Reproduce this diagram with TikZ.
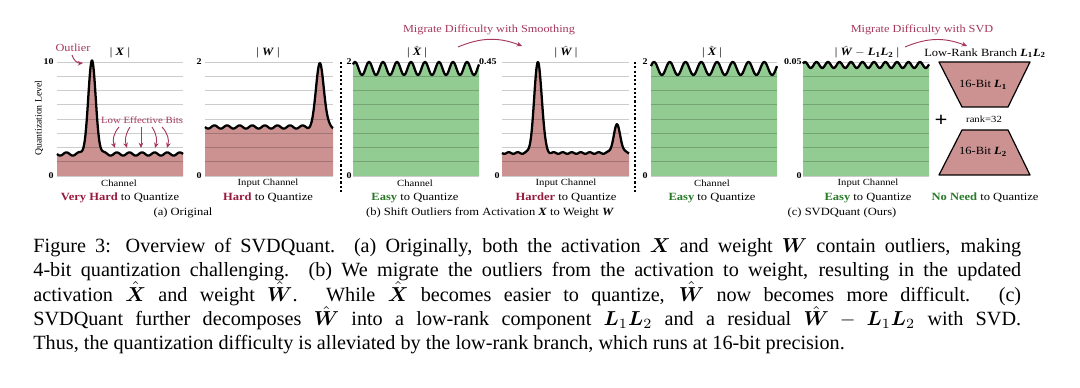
\documentclass[tikz,border=0pt]{standalone}
\usepackage{amsmath}
\usepackage{fontspec}
\setmainfont{Liberation Serif}
\usetikzlibrary{arrows.meta}
\definecolor{rosefill}{RGB}{204,146,146}
\definecolor{greenfill}{RGB}{146,204,146}
\definecolor{redtxt}{RGB}{150,25,60}
\definecolor{annot}{RGB}{165,55,90}
\definecolor{greentxt}{RGB}{40,120,40}
\newcommand\bi[1]{\textbf{\textit{#1}}}
\newcommand\hbi[1]{$\hat{\text{\bfseries\itshape #1}}$}
\newcommand\drawpanel[4]{%
  \fill[#4] (#1,176) -- plot[domain=#1:#2,samples=300] (\x,{#3(\x)}) -- (#2,176) -- cycle;
  \foreach \k in {0,...,8} \draw[grid] (#1,{62+14.25*\k}) -- (#2,{62+14.25*\k});
  \draw[curve] plot[domain=#1:#2,samples=300] (\x,{#3(\x)});
}
\begin{document}
\begin{tikzpicture}[x=0.75pt,y=-0.75pt,
  lab/.style={yscale=0.88, inner sep=0pt, font=\fontsize{9.4}{11}\selectfont},
  ttl/.style={lab, font=\fontsize{9.5}{11}\selectfont},
  axl/.style={lab, font=\fontsize{8}{9}\selectfont},
  tick/.style={lab, font=\fontsize{7.5}{8}\selectfont\bfseries},
  ann/.style={lab, text=annot, font=\fontsize{9.2}{11}\selectfont},
  curve/.style={line width=1.7pt, line join=round},
  grid/.style={black, opacity=0.2, line width=0.6pt},
  arr/.style={annot, line width=0.7pt, -{Stealth[length=4pt,width=3.5pt]}},
  sep/.style={line width=1.6pt, dash pattern=on 1.6pt off 1.6pt},
  trap/.style={fill=rosefill, draw=black, line width=0.9pt, line join=round},
  declare function={
    fa(\x)=154+1.6*sin(28.571*(\x-57))-92*exp(-min(((\x-92)/3.8)^2/2,30));
    fb(\x)=127+1.6*sin(28.571*(\x-205))-65*exp(-min(((\x-320)/3.8)^2/2,30));
    fc(\x)=68.5-6.5*cos(25.714*(\x-355));
    fd(\x)=153+0.8*sin(40*(\x-502))-91*exp(-min(((\x-538)/3.8)^2/2,30))-28*exp(-min(((\x-617)/3.4)^2/2,30));
    fe(\x)=68.5-6.5*cos(22.857*(\x-654));
    ff(\x)=65-3*cos(31.304*(\x-805));
  }]
\useasboundingbox (0,0) rectangle (1080,388);

% panels
\drawpanel{57}{183}{fa}{rosefill}
\drawpanel{205}{333}{fb}{rosefill}
\drawpanel{353}{479}{fc}{greenfill}
\drawpanel{502}{629}{fd}{rosefill}
\drawpanel{651}{777}{fe}{greenfill}
\drawpanel{803}{929}{ff}{greenfill}

% separators
\coordinate (s1t) at (340.7,62); \coordinate (s1b) at (340.7,193);
\coordinate (s2t) at (635,62); \coordinate (s2b) at (635,193);
\draw[sep] (s1t) -- (s1b);
\draw[sep] (s2t) -- (s2b);

% ticks
\node[tick,anchor=east] (t1a) at (54,62) {10};
\node[tick,anchor=east] (t1b) at (54,176) {0};
\node[tick,anchor=east] (t2a) at (202,62) {2};
\node[tick,anchor=east] (t2b) at (202,176) {0};
\node[tick,anchor=east] (t3a) at (352,62) {2};
\node[tick,anchor=east] (t3b) at (352,176) {0};
\node[tick,anchor=east] (t4a) at (497,62) {0.45};
\node[tick,anchor=east] (t4b) at (500,176) {0};
\node[tick,anchor=east] (t5a) at (648,62) {2};
\node[tick,anchor=east] (t5b) at (648,176) {0};
\node[tick,anchor=east] (t6a) at (802,62) {0.05};
\node[tick,anchor=east] (t6b) at (802,176) {0};

\node[font=\fontsize{7.3}{8}\selectfont, rotate=90, inner sep=0pt] (ql) at (39,118) {Quantization Level};

% titles
\node[ttl] (h1) at (120,53) {| \bi{X} |};
\node[ttl] (h2) at (268,53) {| \bi{W} |};
\node[ttl] (h3) at (417,52) {| \hbi{X} |};
\node[ttl] (h4) at (566,52) {| \hbi{W} |};
\node[ttl] (h5) at (712,52) {| \hbi{X} |};
\node[ttl] (h6) at (867,52) {| \hbi{W} $-$ \bi{L}\textsubscript{\bfseries 1}\bi{L}\textsubscript{\bfseries 2} |};
\node[lab] (h7) at (985,53) {Low-Rank Branch \bi{L}\textsubscript{\bfseries 1}\bi{L}\textsubscript{\bfseries 2}};

% axis labels
\node[axl] (x1) at (119,183) {Channel};
\node[axl] (x2) at (268,183) {Input Channel};
\node[axl] (x3) at (415,183) {Channel};
\node[axl] (x4) at (566,183) {Input Channel};
\node[axl] (x5) at (712,183) {Channel};
\node[axl] (x6) at (868,183) {Input Channel};

% difficulty labels
\node[lab] (d1) at (120,198) {\textcolor{redtxt}{\textbf{Very Hard}} to Quantize};
\node[lab] (d2) at (268,198) {\textcolor{redtxt}{\textbf{Hard}} to Quantize};
\node[lab] (d3) at (415,198) {\textcolor{greentxt}{\textbf{Easy}} to Quantize};
\node[lab] (d4) at (566,198) {\textcolor{redtxt}{\textbf{Harder}} to Quantize};
\node[lab] (d5) at (712,198) {\textcolor{greentxt}{\textbf{Easy}} to Quantize};
\node[lab] (d6) at (868,198) {\textcolor{greentxt}{\textbf{Easy}} to Quantize};
\node[lab] (d7) at (985,198) {\textcolor{greentxt}{\textbf{No Need}} to Quantize};

% sub-captions
\node[lab] (ca) at (183,213) {(a) Original};
\node[lab] (cb) at (490,213) {(b) Shift Outliers from Activation \bi{X} to Weight \bi{W}};
\node[lab] (cc) at (842,213) {(c) SVDQuant (Ours)};

% annotations
\node[ann] (outl) at (73,48) {Outlier};
\coordinate (pk1) at (83,63);
\draw[arr] (72,55) to[bend right=40] (pk1);
\node[ann, font=\fontsize{8.1}{9}\selectfont] (leb) at (142,120) {Low Effective Bits};
\coordinate (la1) at (119,127); \coordinate (lb1) at (115,148);
\coordinate (la2) at (130,127); \coordinate (lb2) at (127,148);
\coordinate (la3) at (141,127); \coordinate (lb3) at (141,148);
\coordinate (la4) at (152,127); \coordinate (lb4) at (155,148);
\coordinate (la5) at (162,127); \coordinate (lb5) at (167,148);
\draw[arr] (la1) to[bend right=30] (lb1);
\draw[arr] (la2) to[bend right=25] (lb2);
\draw[arr] (la3) -- (lb3);
\draw[arr] (la4) to[bend left=25] (lb4);
\draw[arr] (la5) to[bend left=30] (lb5);

\node[ann] (mig1) at (489,30) {Migrate Difficulty with Smoothing};
\coordinate (m1a) at (458,47); \coordinate (m1b) at (522,46);
\draw[arr] (m1a) to[bend left=22] (m1b);
\node[ann] (mig2) at (922,30) {Migrate Difficulty with SVD};
\coordinate (m2a) at (905,47); \coordinate (m2b) at (967,46);
\draw[arr] (m2a) to[bend left=22] (m2b);

% low-rank branch
\draw[trap] (939,62) -- (1030,62) -- (1008,107) -- (962,107) -- cycle;
\draw[trap] (962,130) -- (1008,130) -- (1030,175) -- (939,175) -- cycle;
\node[lab] (l1) at (983,85) {16-Bit \bi{L}\textsubscript{\bfseries 1}};
\node[lab] (l2) at (983,152) {16-Bit \bi{L}\textsubscript{\bfseries 2}};
\node[axl] (rk) at (984,119) {rank=32};
\node[lab, font=\fontsize{17}{17}\selectfont\bfseries] (plus) at (941,121) {+};

% caption
\node[anchor=north west, inner sep=0pt, scale=1.515, text width=489pt, align=justify, font=\fontsize{10}{12}\selectfont] (cap) at (33,238) {Figure 3: Overview of SVDQuant. (a) Originally, both the activation $\boldsymbol{X}$ and weight $\boldsymbol{W}$ contain outliers, making\linebreak 4-bit quantization challenging. (b) We migrate the outliers from the activation to weight, resulting in the updated\linebreak activation $\hat{\boldsymbol{X}}$ and weight $\hat{\boldsymbol{W}}$. While $\hat{\boldsymbol{X}}$ becomes easier to quantize, $\hat{\boldsymbol{W}}$ now becomes more difficult. (c)\linebreak SVDQuant further decomposes $\hat{\boldsymbol{W}}$ into a low-rank component $\boldsymbol{L}_1\boldsymbol{L}_2$ and a residual $\hat{\boldsymbol{W}}-\boldsymbol{L}_1\boldsymbol{L}_2$ with SVD.\linebreak Thus, the quantization difficulty is alleviated by the low-rank branch, which runs at 16-bit precision.};
\end{tikzpicture}
\end{document}
